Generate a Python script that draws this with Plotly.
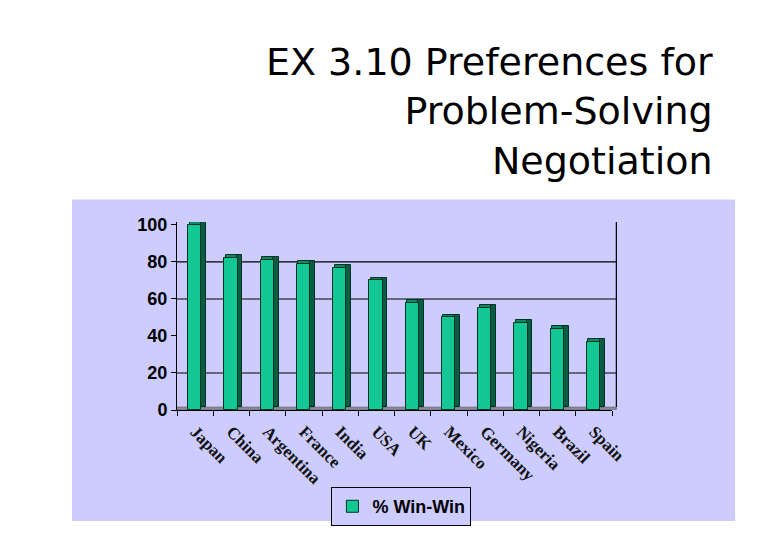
import plotly.graph_objects as go

# values
countries = ["Japan", "China", "Argentina", "France", "India", "USA", "UK",
             "Mexico", "Germany", "Nigeria", "Brazil", "Spain"]
win_win = [100, 82, 81, 79, 77, 70, 58, 50, 55, 47, 44, 37]
y_ticks = [0, 20, 40, 60, 80, 100]
grid_levels = [20, 60, 80]
series_name = "% Win-Win"

FRONT = "#14c896"
SIDE = "#0b5c42"
TOP = "#0f8a64"
BG = "#ccccff"
DEPTH = 1.6  # fake 3d depth, in axis units

fig = go.Figure()

# top face of each bar, shifted back and right
fig.add_trace(go.Bar(
    x=countries, y=[DEPTH] * len(win_win), base=win_win,
    width=0.36, offset=-0.15,
    marker=dict(color=TOP, line=dict(color="#003322", width=1)),
    showlegend=False, hoverinfo="skip",
))

# dark side face of each bar
fig.add_trace(go.Bar(
    x=countries, y=win_win, base=DEPTH,
    width=0.14, offset=0.16,
    marker=dict(color=SIDE, line=dict(color="#003322", width=1)),
    showlegend=False, hoverinfo="skip",
))

# front face
fig.add_trace(go.Bar(
    x=countries, y=win_win,
    width=0.36, offset=-0.19,
    name=series_name,
    marker=dict(color=FRONT, line=dict(color="#003322", width=1)),
))

shapes = []
# lavender chart area behind everything
shapes.append(dict(type="rect", xref="paper", yref="paper",
                   x0=-0.2414, x1=1.283, y0=-0.59, y1=1.12,
                   fillcolor=BG, line_width=0, layer="below"))
# gridlines (only some levels are drawn in the original)
for g in grid_levels:
    shapes.append(dict(type="line", xref="paper", yref="y",
                       x0=0.0, x1=1.01, y0=g, y1=g,
                       line=dict(color="black", width=1.2), layer="below"))
# right wall edge
shapes.append(dict(type="line", xref="paper", yref="y",
                   x0=1.01, x1=1.01, y0=DEPTH, y1=101.6,
                   line=dict(color="black", width=1.2), layer="below"))
# grey floor strip
shapes.append(dict(type="rect", xref="paper", yref="y",
                   x0=0.0, x1=1.01, y0=0, y1=DEPTH,
                   fillcolor="#8a8a9a", line=dict(color="#555", width=0.5), layer="below"))

fig.update_layout(
    width=780, height=540,
    margin=dict(l=169, r=176, t=214, b=138),
    paper_bgcolor="white",
    plot_bgcolor=BG,
    barmode="overlay",
    bargap=0,
    shapes=shapes,
    showlegend=True,
    legend=dict(
        x=0.355, y=-0.41, xanchor="left", yanchor="top",
        bgcolor=BG, bordercolor="black", borderwidth=1,
        font=dict(family="Liberation Sans", size=18, color="black", weight="bold"),
    ),
    annotations=[dict(
        text="EX 3.10 Preferences for<br>Problem-Solving<br>Negotiation",
        xref="paper", yref="paper", x=1.2368, y=1.98,
        xanchor="right", yanchor="top", align="right", showarrow=False,
        font=dict(family="DejaVu Sans", size=38, color="black"),
    )],
)

fig.update_yaxes(
    range=[0, 101.6], tickvals=y_ticks,
    showgrid=False, zeroline=False,
    showline=True, linecolor="black", linewidth=1,
    ticks="outside", ticklen=5, tickcolor="black",
    tickfont=dict(family="Liberation Sans", size=18, color="black", weight="bold"),
)
fig.update_xaxes(
    showgrid=False, showline=True, linecolor="black", linewidth=1,
    ticks="outside", ticklen=5, tickcolor="black", tickson="boundaries",
    tickangle=45, ticklabelstandoff=4,
    tickfont=dict(family="Liberation Serif", size=17, color="#111", weight="bold"),
)

fig.write_html("out.html")
